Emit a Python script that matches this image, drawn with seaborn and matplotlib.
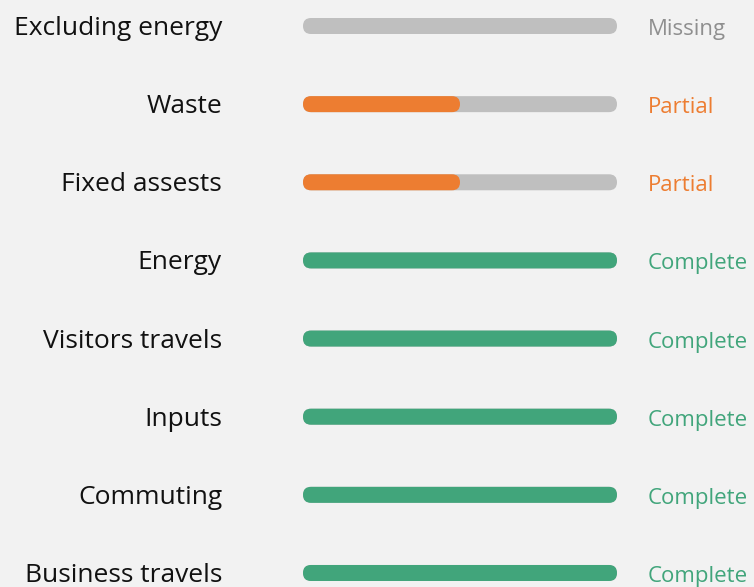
import matplotlib
matplotlib.use("Agg")
import matplotlib.pyplot as plt
import matplotlib.transforms as mtransforms
from matplotlib.patches import FancyBboxPatch
import seaborn as sns

# Data
categories = ["Excluding energy", "Waste", "Fixed assests", "Energy",
              "Visitors travels", "Inputs", "Commuting", "Business travels"]
completion = [0, 0.5, 0.5, 1, 1, 1, 1, 1]
status = ["Missing", "Partial", "Partial", "Complete",
          "Complete", "Complete", "Complete", "Complete"]

bg_color = "#f2f2f2"
track_color = "#bfbfbf"
status_colors = {"Missing": "#8f8f8f", "Partial": "#ed7d31", "Complete": "#41a57b"}
bar_colors = {"Missing": track_color, "Partial": "#ed7d31", "Complete": "#41a57b"}

sns.set_theme(style="white")
plt.rcParams["font.family"] = ["Open Sans", "DejaVu Sans"]

W, H = 754, 587
fig = plt.figure(figsize=(W / 100, H / 100), dpi=100, facecolor=bg_color)
ax = fig.add_axes([0, 0, 1, 1])
ax.set_facecolor(bg_color)

# pixel geometry of the layout
x0_px, x1_px = 303, 617
y0_px, step_px = 26, 78.14
bar_h = 16 / step_px

# grey track behind every row
sns.barplot(x=[1] * len(categories), y=categories, orient="h",
            color=track_color, width=bar_h, saturation=1, ax=ax)
# filled share
sns.barplot(x=completion, y=categories, orient="h", hue=status,
            palette=bar_colors, width=bar_h, dodge=False, legend=False,
            saturation=1, ax=ax)

unit = x1_px - x0_px
ax.set_xlim(-x0_px / unit, (W - x0_px) / unit)
ax.set_ylim((H - y0_px) / step_px, -y0_px / step_px)

# round the bar ends
r_x = 8 / unit
aspect = (8 / step_px) / r_x
for p in list(ax.patches):
    w = p.get_width()
    if w <= 0:
        p.remove()
        continue
    fb = FancyBboxPatch((p.get_x(), p.get_y()), w, p.get_height(),
                        boxstyle=f"round,pad=0,rounding_size={r_x}",
                        mutation_aspect=aspect,
                        facecolor=p.get_facecolor(), edgecolor="none",
                        zorder=p.get_zorder())
    p.remove()
    ax.add_patch(fb)

ax.set_axis_off()

base = 9 / step_px  # text baseline sits a little below the bar centre
label_tf = mtransforms.blended_transform_factory(fig.transFigure, ax.transData)
for i, (cat, st) in enumerate(zip(categories, status)):
    ax.text(222 / W, i + base, cat, transform=label_tf, ha="right", va="baseline",
            fontsize=19, color="#111111")
    ax.text((648 - x0_px) / unit, i + base, st, ha="left", va="baseline",
            fontsize=16, color=status_colors[st])

fig.savefig("out.png", dpi=100, facecolor=bg_color)
